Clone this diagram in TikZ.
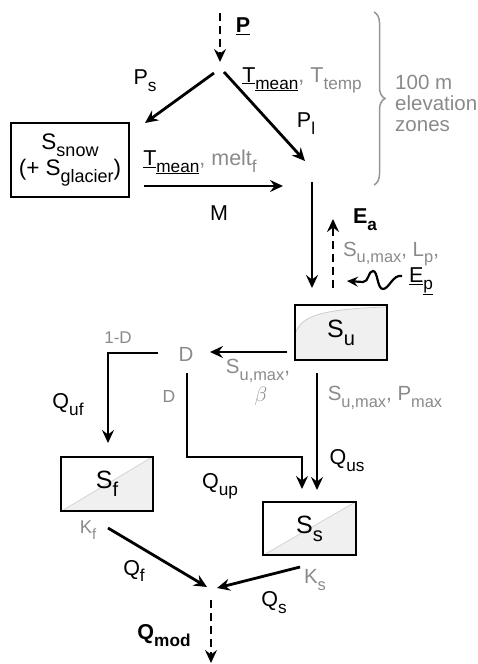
\documentclass[tikz,border=0pt]{standalone}
\usepackage{fontspec}
\setmainfont{Liberation Sans}
\usepackage{graphicx}
\usetikzlibrary{arrows.meta,decorations.pathreplacing,backgrounds}
\definecolor{labgray}{RGB}{138,138,138}
\definecolor{bracegray}{RGB}{150,150,150}
\definecolor{boxfill}{RGB}{240,240,240}
\definecolor{diaggray}{RGB}{212,212,212}
\definecolor{curvegray}{RGB}{205,205,205}
% lowered, slightly reduced subscript that follows the current font size
\newcommand\lowsub[1]{\raisebox{-0.32em}{\scalebox{0.8}{#1}}}
\begin{document}
\begin{tikzpicture}[x=1pt,y=-1pt,
  lbl/.style={font=\fontsize{21.5}{25}\selectfont, inner sep=0pt},
  glbl/.style={lbl, text=labgray, font=\fontsize{20.5}{24}\selectfont},
  boldlbl/.style={font=\fontsize{21.5}{25}\selectfont\bfseries, inner sep=0pt},
  store/.style={draw, line width=1.8pt, inner sep=0pt, font=\fontsize{25}{29}\selectfont},
  flow/.style={line width=2.8pt, -{Stealth[length=13pt,width=12pt,inset=4.5pt]}},
  dflow/.style={flow, dash pattern=on 8pt off 5pt},
]
\useasboundingbox (0,0) rectangle (477,664);

% ---------------- storage boxes ----------------
\node[store, minimum width=118pt, minimum height=74pt, align=center,
      font=\fontsize{22.5}{26}\selectfont] (snow) at (70,160)
      {S\lowsub{snow}\\(+ S\lowsub{glacier})};
\node[store, minimum width=92pt, minimum height=55pt] (su) at (341,332.5) {S\lowsub{u}};
\node[store, minimum width=92pt, minimum height=54pt] (sf) at (107,484) {S\lowsub{f}};
\node[store, minimum width=93pt, minimum height=53pt] (ss) at (309.5,528.5) {S\lowsub{s}};

\begin{scope}[on background layer]
  % unsaturated zone: shaded below its storage curve
  \fill[boxfill] (su.south west) -- (295,332) .. controls (302,316) and (322,309) .. (386,307)
                 -- (su.north east) -- (su.south east) -- cycle;
  \draw[curvegray, line width=0.8pt] (296,332) .. controls (302,316) and (322,309) .. (386,307);
  % fast and slow reservoirs: half shaded along the diagonal
  \fill[boxfill] (sf.south west) -- (sf.south east) -- (sf.north east) -- cycle;
  \draw[diaggray, line width=0.8pt] (sf.south west) -- (sf.north east);
  \fill[boxfill] (ss.south west) -- (ss.south east) -- (ss.north east) -- cycle;
  \draw[diaggray, line width=0.8pt] (ss.south west) -- (ss.north east);
\end{scope}

% ---------------- connector end points ----------------
\coordinate (pTop) at (220,13);   \coordinate (pJoin) at (220,62);
\coordinate (psA) at (214,73);    \coordinate (psB) at (145,123);
\coordinate (plA) at (224,72);    \coordinate (plB) at (305,161);
\coordinate (mA) at (144,186);    \coordinate (mB) at (283,186);
\coordinate (inA) at (312,182);   \coordinate (inB) at (312,288);
\coordinate (eaA) at (333,288);   \coordinate (eaB) at (333,219);
\coordinate (epA) at (402,276);   \coordinate (epB) at (347,281);
\coordinate (duA) at (287,352);   \coordinate (duB) at (210,352);
\coordinate (ufA) at (158,353);   \coordinate (ufB) at (108,443);
\coordinate (upA) at (187,373);   \coordinate (upC) at (187,457);
\coordinate (upB) at (302,489);
\coordinate (usA) at (317,373);   \coordinate (usB) at (317,490);
\coordinate (qfA) at (108,528);   \coordinate (qfB) at (207,587);
\coordinate (qsA) at (300,567);   \coordinate (qsB) at (217,588);
\coordinate (qmA) at (211,600);   \coordinate (qmB) at (211,663);

% ---------------- fluxes ----------------
\draw[dflow] (pTop) -- (pJoin);
\draw[flow] (psA) -- (psB);
\draw[flow] (plA) -- (plB);
\draw[flow] (mA) -- (mB);
\draw[flow] (inA) -- (inB);
\draw[dflow] (eaA) -- (eaB);
\draw[line width=2.2pt, -{Stealth[length=11pt,width=10pt,inset=4pt]}]
  (epA) .. controls (393,274) and (389,289) .. (383,289)
        .. controls (377,289) and (378,271) .. (373,271)
        .. controls (368,271) and (369,282) .. (363,282) -- (epB);
\draw[flow] (duA) -- (duB);
\draw[flow] (ufA) -| (ufB);
\draw[flow] (upA) -- (upC) -| (upB);
\draw[flow] (usA) -- (usB);
\draw[flow] (qfA) -- (qfB);
\draw[flow] (qsA) -- (qsB);
\draw[dflow] (qmA) -- (qmB);

% ---------------- elevation zones ----------------
\draw[bracegray, line width=1.5pt, decorate, decoration={brace, amplitude=11pt, aspect=0.5}]
  (374,12) -- (374,185);
\node[glbl, anchor=west, align=left] (zones) at (395,103)
  {100 m\\[-3pt]elevation\\[-3pt]zones};

% ---------------- labels ----------------
\node[boldlbl] (lP) at (243,26) {\underline{P}};
\node[lbl] (lPs) at (145,81) {P\lowsub{s}};
\node[lbl] (lTt) at (302,80) {\underline{T}\lowsub{\underline{mean}}{\color{labgray}, T\lowsub{temp}}};
\node[lbl] (lPl) at (306,124) {P\lowsub{l}};
\node[lbl] (lTm) at (200,162) {\underline{T}\lowsub{\underline{mean}}{\color{labgray}, melt\lowsub{f}}};
\node[lbl] (lM) at (219,213) {M};
\node[boldlbl] (lEa) at (365,220) {E\lowsub{a}};
\node[glbl] (lLp) at (391,254) {S\lowsub{u,max}, L\lowsub{p},};
\node[lbl] (lEp) at (421,281) {\underline{E}\lowsub{\underline{p}}};
\node[glbl] (lD) at (186,354) {D};
\node[glbl, font=\fontsize{17}{20}\selectfont] (l1D) at (118,338) {1-D};
\node[glbl] (lSb) at (258,371) {S\lowsub{u,max},};
\node[glbl] (lb) at (261,396) {$\beta$};
\node[glbl, font=\fontsize{17.5}{20}\selectfont] (lD2) at (169,396) {D};
\node[lbl] (lQuf) at (68,405) {Q\lowsub{uf}};
\node[glbl] (lSP) at (385,398) {S\lowsub{u,max}, P\lowsub{max}};
\node[lbl] (lQus) at (347,461) {Q\lowsub{us}};
\node[lbl] (lQup) at (220,486) {Q\lowsub{up}};
\node[glbl, font=\fontsize{18.5}{21}\selectfont] (lKf) at (88,530) {K\lowsub{f}};
\node[glbl] (lKs) at (315,580) {K\lowsub{s}};
\node[lbl] (lQf) at (134,571) {Q\lowsub{f}};
\node[lbl] (lQs) at (274,603) {Q\lowsub{s}};
\node[boldlbl] (lQm) at (164,636) {Q\lowsub{mod}};
\end{tikzpicture}
\end{document}
